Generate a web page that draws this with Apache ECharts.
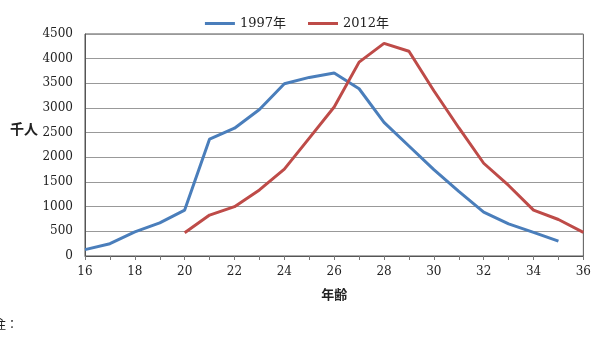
<!DOCTYPE html>
<html>
<head>
<meta charset="utf-8">
<script src="https://cdn.jsdelivr.net/npm/echarts@6/dist/echarts.min.js"></script>
<style>
  html, body { margin: 0; padding: 0; background: #fff; }
  #chart { width: 594px; height: 345px; }
</style>
</head>
<body>
<div id="chart"></div>
<script>
// 年齢 16..36
const ages = ['16','17','18','19','20','21','22','23','24','25','26','27','28','29','30','31','32','33','34','35','36']
// 千人
const y1997 = [130, 250, 490, 670, 930, 2370, 2590, 2970, 3490, 3620, 3710, 3390, 2710, 2230, 1750, 1310, 890, 650, 480, 300, null]
const y2012 = [null, null, null, null, 470, 830, 1000, 1340, 1760, 2390, 3020, 3930, 4310, 4150, 3350, 2600, 1880, 1430, 930, 740, 480]
const seriesNames = ['1997年', '2012年']
const colors = ['#4a7ebb', '#be4b48']

const serif = '"DejaVu Serif", "Noto Sans CJK JP", serif'
const cjk = '"Noto Sans CJK JP", sans-serif'

const chart = echarts.init(document.getElementById('chart'))

const option = {
    animation: false,
    color: colors,
    legend: {
        top: 12,
        left: 'center',
        icon: 'rect',
        itemWidth: 30,
        itemHeight: 3,
        itemGap: 22,
        textStyle: { fontFamily: serif, fontSize: 13, color: '#222' },
        data: seriesNames
    },
    grid: {
        left: 85,
        right: 10,
        top: 34,
        bottom: 89,
        show: true,
        borderColor: '#555',
        borderWidth: 1
    },
    xAxis: {
        type: 'category',
        data: ages,
        boundaryGap: false,
        name: '年齢',
        nameLocation: 'middle',
        nameGap: 32,
        nameTextStyle: { fontFamily: cjk, fontSize: 13, fontWeight: 'bold', color: '#222' },
        axisLine: { lineStyle: { color: '#555', width: 1 } },
        axisTick: { show: true, interval: 0, length: 4, lineStyle: { color: '#777' } },
        axisLabel: { interval: 1, margin: 10, fontFamily: serif, fontSize: 12, color: '#222' },
        splitLine: { show: false }
    },
    yAxis: {
        type: 'value',
        min: 0,
        max: 4500,
        interval: 500,
        axisLine: { show: true, lineStyle: { color: '#555', width: 1 } },
        axisTick: { show: false },
        axisLabel: { margin: 12, fontFamily: serif, fontSize: 12, color: '#222', formatter: (v) => String(v) },
        splitLine: { lineStyle: { color: '#999', width: 1 } }
    },
    graphic: [
        {
            type: 'text',
            left: 10,
            top: 122,
            style: { text: '千人', font: 'bold 14px "Noto Sans CJK JP", sans-serif', fill: '#222' }
        },
        {
            type: 'text',
            left: -6,
            top: 318,
            style: { text: '注：', font: '12px "Noto Sans CJK JP", sans-serif', fill: '#222' }
        }
    ],
    series: [
        {
            name: seriesNames[0],
            type: 'line',
            data: y1997,
            symbol: 'none',
            connectNulls: false,
            lineStyle: { width: 3, color: colors[0] }
        },
        {
            name: seriesNames[1],
            type: 'line',
            data: y2012,
            symbol: 'none',
            connectNulls: false,
            lineStyle: { width: 3, color: colors[1] }
        }
    ]
}

chart.setOption(option)
</script>
</body>
</html>
